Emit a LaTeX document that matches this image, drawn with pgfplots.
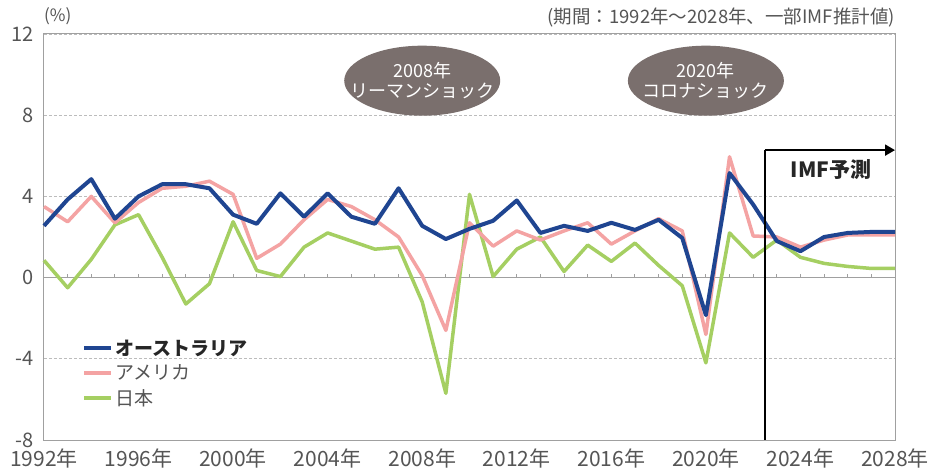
\documentclass[border=0pt]{standalone}
\usepackage{fontspec}
\setmainfont{Noto Sans CJK JP}
\usepackage{pgfplots}
\usepackage{pgfplotstable}
\pgfplotsset{compat=1.18}
\usetikzlibrary{arrows.meta}
\definecolor{aus}{HTML}{1F4591}
\definecolor{usa}{HTML}{F4A3A3}
\definecolor{jpn}{HTML}{A5CF62}
\definecolor{bub}{HTML}{7A6F6D}
\definecolor{txt}{HTML}{555555}
\definecolor{axl}{HTML}{A0A0A0}

% t = year - 1992
\pgfplotstableread{
t aus usa jpn
0 2.55 3.5 0.85
1 3.85 2.75 -0.5
2 4.85 4.0 0.9
3 2.9 2.7 2.6
4 4.0 3.7 3.1
5 4.6 4.4 1.0
6 4.6 4.5 -1.3
7 4.4 4.75 -0.3
8 3.1 4.1 2.75
9 2.65 0.95 0.35
10 4.15 1.65 0.05
11 3.0 2.85 1.5
12 4.15 3.85 2.2
13 3.0 3.5 1.8
14 2.65 2.85 1.4
15 4.4 2.0 1.5
16 2.55 0.1 -1.2
17 1.9 -2.6 -5.7
18 2.4 2.7 4.1
19 2.8 1.55 0.05
20 3.8 2.3 1.4
21 2.2 1.85 2.0
22 2.55 2.3 0.3
23 2.3 2.7 1.6
24 2.7 1.65 0.8
25 2.35 2.3 1.7
26 2.85 2.9 0.6
27 1.95 2.3 -0.4
28 -1.85 -2.8 -4.2
29 5.15 5.95 2.2
30 3.6 2.05 1.0
31 1.8 2.0 1.85
32 1.3 1.5 1.0
33 2.0 1.85 0.7
34 2.2 2.1 0.55
35 2.25 2.1 0.45
36 2.25 2.1 0.45
}\data

\begin{document}
\begin{tikzpicture}
\useasboundingbox (-44pt,-32pt) rectangle (889pt,440pt);
\fill[white] (-44pt,-32pt) rectangle (889pt,440pt);
\begin{axis}[
  scale only axis, width=851pt, height=406pt,
  xmin=0, xmax=36, ymin=-8, ymax=12,
  xtick={0,4,...,36},
  xticklabels={1992年,1996年,2000年,2004年,2008年,2012年,2016年,2020年,2024年,2028年},
  ytick={-8,-4,0,4,8,12}, yticklabels={-8,-4,0,4,8,12},
  major tick length=0pt,
  xticklabel style={font=\fontsize{21}{21}\selectfont, text=txt, inner sep=0pt, yshift=-9pt},
  yticklabel style={font=\fontsize{20}{20}\selectfont, text=txt, inner sep=0pt, xshift=-10pt},
  axis line style={axl, line width=1pt},
  ymajorgrids, grid style={axl!70, line width=0.7pt, dash pattern=on 3pt off 2pt},
  clip=false,
  legend style={at={(0.045,0.252)}, anchor=north west, draw=none, fill=none,
    font=\fontsize{19}{19}\selectfont, text=txt, row sep=4pt, inner sep=0pt},
  legend cell align=left,
  legend image code/.code={\draw[#1, line width=4pt] (0pt,0pt) -- (27pt,0pt);},
  reverse legend,
]
\draw[axl, line width=1pt] (axis cs:0,0) -- (axis cs:36,0);
\pgfplotsinvokeforeach{1,...,35}{\draw[axl, line width=1pt] (axis cs:#1,0) -- ++(0pt,4pt);}
\addplot[jpn, line width=3.5pt, line join=round] table[x=t,y=jpn]{\data};
\addlegendentry{日本}
\addplot[usa, line width=3.5pt, line join=round] table[x=t,y=usa]{\data};
\addlegendentry{アメリカ}
\addplot[aus, line width=4pt, line join=round] table[x=t,y=aus]{\data};
\addlegendentry{\textcolor{black!85}{\textbf{オーストラリア}}}
\draw[black, line width=2pt, -{Triangle[length=10pt,width=11pt]}] (axis cs:30.5,6.28) -- (axis cs:36,6.28);
\draw[black, line width=2pt] (axis cs:30.5,6.28) -- (axis cs:30.5,-8);
\node[font=\fontsize{21}{21}\selectfont\bfseries, text=black!85] at (axis cs:33.3,5.3) {IMF予測};
\fill[bub] (axis cs:16,9.7) ellipse [x radius=78pt, y radius=35pt];
\fill[bub] (axis cs:28,9.7) ellipse [x radius=78pt, y radius=35pt];
\node[text=white, font=\fontsize{18}{20}\selectfont, align=center, inner sep=0pt] at (axis cs:16,9.7) {2008年\\リーマンショック};
\node[text=white, font=\fontsize{18}{20}\selectfont, align=center, inner sep=0pt] at (axis cs:28,9.7) {2020年\\コロナショック};
\node[anchor=west, font=\fontsize{17}{17}\selectfont, text=txt, inner sep=0pt] at ([yshift=18pt]rel axis cs:0,1) {(\%)};
\node[anchor=east, font=\fontsize{18.5}{18.5}\selectfont, text=txt, inner sep=0pt] at ([yshift=16pt]rel axis cs:1,1) {(期間：1992年～2028年、一部IMF推計値)};
\end{axis}
\end{tikzpicture}
\end{document}
